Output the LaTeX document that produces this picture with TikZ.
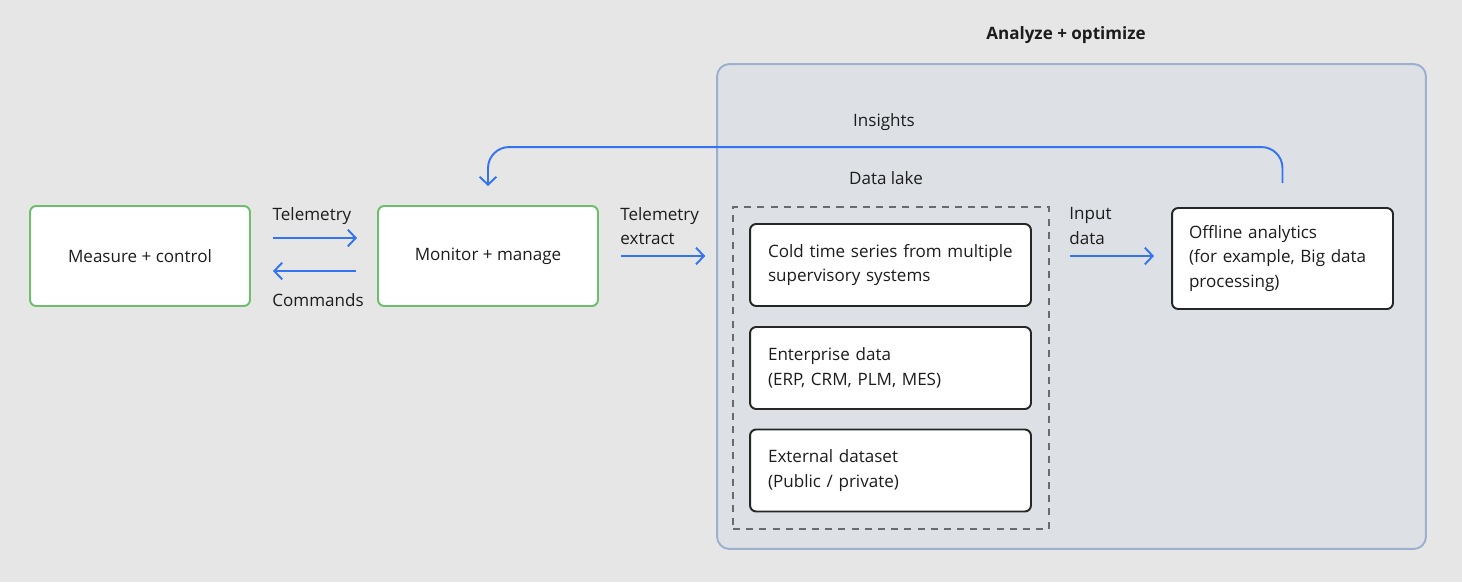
\documentclass[tikz,border=0pt]{standalone}
\usepackage{fontspec}
\setmainfont{Open Sans}
\usepackage{tikz}
\usetikzlibrary{arrows.meta}
\definecolor{pagegray}{HTML}{E6E6E6}
\definecolor{zonefill}{HTML}{DDE1E6}
\definecolor{zoneline}{HTML}{9BB0CE}
\definecolor{devgreen}{HTML}{6CBF6A}
\definecolor{flowblue}{HTML}{3574F0}
\definecolor{inkgray}{HTML}{1C1C1C}
\definecolor{dashgray}{HTML}{6A6A6A}

\begin{document}
\begin{tikzpicture}[x=0.02cm,y=-0.02cm,
  every node/.style={font=\fontsize{9.7}{13.9}\selectfont, text=inkgray},
  devbox/.style={draw=devgreen, line width=1.1pt, fill=white, rounded corners=3.5pt,
    minimum width=4.4cm, minimum height=2cm},
  databox/.style={draw=black!85, line width=1.1pt, fill=white, rounded corners=3.5pt,
    minimum width=5.62cm, minimum height=1.64cm, text width=4.9cm, inner xsep=0.36cm, align=left},
  flow/.style={draw=flowblue, line width=1.1pt, -{Straight Barb[length=4.5pt,width=9.5pt]}},
  lbl/.style={align=left, inner sep=0pt}]
\fill[pagegray] (0,0) rectangle (1462,582);
\useasboundingbox (0,0) rectangle (1462,582);
\node[draw=zoneline, line width=1.1pt, fill=zonefill, rounded corners=7pt,
  minimum width=14.18cm, minimum height=9.7cm] (zone) at (1071.5,306.5) {};
\node[font=\fontsize{9.7}{13.9}\selectfont\bfseries] (zonetitle) at (1066,35) {Analyze + optimize};
\node[devbox] (measure) at (140,256) {Measure + control};
\node[devbox] (monitor) at (488,256) {Monitor + manage};
\node[draw=dashgray, line width=0.9pt, dash pattern=on 4pt off 3.5pt,
  minimum width=6.32cm, minimum height=6.44cm] (lake) at (891,368) {};
\node (laketitle) at (886,178) {Data lake};
\node[databox] (cold) at (890.5,265) {Cold time series from multiple supervisory systems};
\node[databox] (erp) at (890.5,368) {Enterprise data\\(ERP, CRM, PLM, MES)};
\node[databox] (ext) at (890.5,470.5) {External dataset\\(Public / private)};
\node[draw=black!85, line width=1.1pt, fill=white, rounded corners=3.5pt,
  minimum width=4.42cm, minimum height=2.02cm, text width=3.74cm, inner xsep=0.34cm,
  align=left] (offline) at (1282.5,258.5) {Offline analytics\\(for example, Big data processing)};
\draw[flow, shorten <=0.44cm, shorten >=0.4cm] ([yshift=0.36cm]measure.east) -- ([yshift=0.36cm]monitor.west);
\draw[flow, shorten <=0.42cm, shorten >=0.44cm] ([yshift=-0.3cm]monitor.west) -- ([yshift=-0.3cm]measure.east);
\node (tele) at (312,216) {Telemetry};
\node (cmds) at (318,300) {Commands};
\draw[flow, shorten <=0.44cm, shorten >=0.54cm] (monitor.east) -- (monitor.east -| lake.west);
\node[lbl, anchor=west] (extract) at (620,226) {Telemetry\\extract};
\draw[flow, shorten <=0.4cm, shorten >=0.34cm] ([yshift=0.05cm]offline.west -| lake.east) -- ([yshift=0.05cm]offline.west);
\node[lbl, anchor=west] (input) at (1069,226) {Input\\data};
\draw[flow, rounded corners=12pt, shorten >=0.38cm] ([yshift=0.48cm]offline.north) -- ++(0,-36) -| (monitor.north);
\node (insights) at (884,122) {Insights};
\end{tikzpicture}
\end{document}
